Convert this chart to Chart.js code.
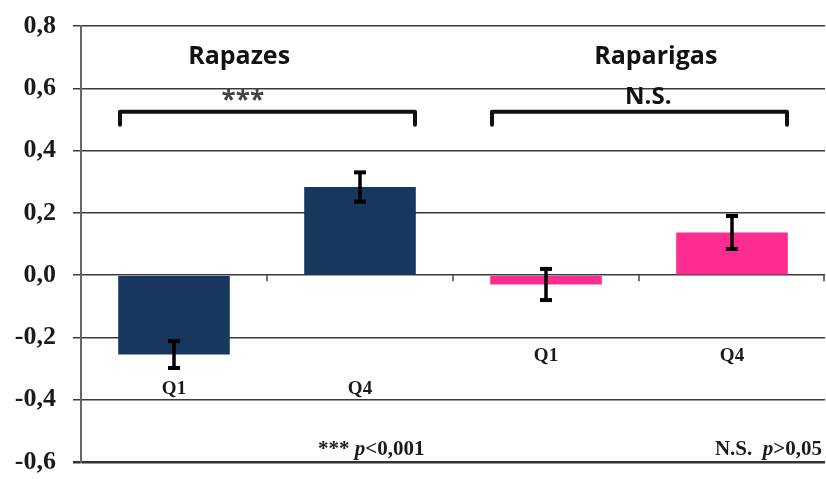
<!DOCTYPE html>
<html>
<head>
<meta charset="utf-8">
<script src="https://cdn.jsdelivr.net/npm/chart.js@4"></script>
<style>
  html, body { margin: 0; padding: 0; background: #ffffff; }
  #wrap { width: 826px; height: 479px; }
</style>
</head>
<body>
<div id="wrap"><canvas id="chart" width="826" height="479"></canvas></div>
<script>
// Groups and quartiles
const groups = ['Rapazes', 'Raparigas'];
const categories = ['Q1', 'Q4', 'Q1', 'Q4'];
const groupOfBar = [0, 0, 1, 1];
// Mean scores and their error (± half bar length)
const means = [-0.255, 0.283, -0.03, 0.137];
const errors = [0.043, 0.047, 0.05, 0.053];
// Significance marks and footnotes
const significance = ['***', 'N.S.'];
const noteLeft = ['*** ', 'p', '<0,001'];
const noteRight = ['N.S.  ', 'p', '>0,05'];
// Value axis
const yMin = -0.6;
const yMax = 0.8;
const yStep = 0.2;

const NAVY = '#18375f';
const PINK = '#fe2c91';
const barColors = groupOfBar.map(g => g === 0 ? NAVY : PINK);

const serif = (px, style) => (style || '') + ' bold ' + px + 'px "Liberation Serif", "Times New Roman", serif';
const sansBold = (px) => 'bold ' + px + 'px "Open Sans", "Liberation Sans", sans-serif';

// Draw a run of text pieces where the middle piece is italic
function drawRuns(ctx, pieces, x, y, align, px) {
  const fonts = [serif(px), serif(px, 'italic'), serif(px)];
  const widths = pieces.map((p, i) => { ctx.font = fonts[i]; return ctx.measureText(p).width; });
  const total = widths.reduce((a, b) => a + b, 0);
  let cx = align === 'right' ? x - total : (align === 'center' ? x - total / 2 : x);
  ctx.textAlign = 'left';
  pieces.forEach((p, i) => {
    ctx.font = fonts[i];
    ctx.fillText(p, cx, y);
    cx += widths[i];
  });
}

const annotations = {
  id: 'annotations',
  afterDatasetsDraw(chart) {
    const ctx = chart.ctx;
    const xs = chart.scales.x;
    const ys = chart.scales.y;
    const bars = chart.getDatasetMeta(0).data;
    const area = chart.chartArea;
    ctx.save();

    // small ticks at the category boundaries on the zero line
    const zeroY = ys.getPixelForValue(0);
    ctx.strokeStyle = '#444';
    ctx.lineWidth = 1.5;
    for (let i = 0; i < categories.length; i++) {
      const bx = (xs.getPixelForValue(i) + xs.getPixelForValue(i + 1)) / 2;
      const px = i === categories.length - 1 ? area.right - 1 : bx;
      ctx.beginPath();
      ctx.moveTo(px, zeroY);
      ctx.lineTo(px, zeroY + 6);
      ctx.stroke();
    }

    // error bars
    ctx.strokeStyle = '#000';
    ctx.fillStyle = '#000';
    bars.forEach((bar, i) => {
      const top = ys.getPixelForValue(means[i] + errors[i]);
      const bot = ys.getPixelForValue(means[i] - errors[i]);
      ctx.lineWidth = 3.5;
      ctx.beginPath();
      ctx.moveTo(bar.x, top);
      ctx.lineTo(bar.x, bot);
      ctx.stroke();
      ctx.fillRect(bar.x - 6, top - 2, 12, 4);
      ctx.fillRect(bar.x - 6, bot - 2, 12, 4);
    });

    // quartile labels under each group
    const labelLevel = [-0.365, -0.26];
    ctx.fillStyle = '#1a1a1a';
    ctx.font = serif(19);
    ctx.textAlign = 'center';
    ctx.textBaseline = 'middle';
    bars.forEach((bar, i) => {
      ctx.fillText(categories[i], bar.x, ys.getPixelForValue(labelLevel[groupOfBar[i]]));
    });

    // group titles, brackets and significance marks
    const titlePos = [0.35, 2.59];
    const sigPos = [0.37, 2.55];
    const sigLevel = [0.558, 0.572];
    groups.forEach((g, gi) => {
      const b0 = bars[gi * 2];
      const b1 = bars[gi * 2 + 1];
      ctx.fillStyle = '#111';
      ctx.font = sansBold(25);
      ctx.textAlign = 'center';
      ctx.fillText(g, xs.getPixelForValue(titlePos[gi]), ys.getPixelForValue(0.70));

      ctx.fillStyle = gi === 0 ? '#444' : '#111';
      ctx.font = sansBold(gi === 0 ? 26 : 24);
      ctx.fillText(significance[gi], xs.getPixelForValue(sigPos[gi]), ys.getPixelForValue(sigLevel[gi]));

      const left = b0.x - 54;
      const right = b1.x + 55;
      const yt = ys.getPixelForValue(0.525);
      const yb = ys.getPixelForValue(0.483);
      ctx.strokeStyle = '#111';
      ctx.lineWidth = 4;
      ctx.lineJoin = 'round';
      ctx.lineCap = 'round';
      ctx.beginPath();
      ctx.moveTo(left, yb);
      ctx.lineTo(left, yt);
      ctx.lineTo(right, yt);
      ctx.lineTo(right, yb);
      ctx.stroke();
    });

    // footnotes
    ctx.fillStyle = '#1a1a1a';
    ctx.textBaseline = 'middle';
    const noteY = ys.getPixelForValue(-0.561);
    drawRuns(ctx, noteLeft, xs.getPixelForValue(1.06), noteY, 'center', 21);
    drawRuns(ctx, noteRight, area.right - 3, noteY, 'right', 21);

    ctx.restore();
  }
};

new Chart(document.getElementById('chart'), {
  type: 'bar',
  data: {
    labels: categories,
    datasets: [{
      data: means,
      backgroundColor: barColors,
      borderWidth: 0,
      barPercentage: 0.6,
      categoryPercentage: 1.0
    }]
  },
  options: {
    responsive: false,
    animation: false,
    devicePixelRatio: 1,
    layout: { padding: { top: 26, bottom: 17, left: 0, right: 1 } },
    plugins: { legend: { display: false }, tooltip: { enabled: false } },
    scales: {
      x: { display: false, offset: true },
      y: {
        min: yMin,
        max: yMax,
        afterFit(scale) {
          scale.width = 81;
          scale.paddingTop = 0;
          scale.paddingBottom = 0;
        },
        ticks: {
          stepSize: yStep,
          padding: 17,
          color: '#1a1a1a',
          font: { family: '"Liberation Serif", "Times New Roman", serif', size: 26, weight: 'bold' },
          callback: (v) => (Math.abs(v) < 1e-9 ? 0 : v).toFixed(1).replace('.', ',')
        },
        grid: {
          color: (c) => c.index === 0 ? '#333' : '#3a3a3a',
          lineWidth: (c) => c.index === 0 ? 2.5 : 1.5,
          tickLength: 8,
          drawTicks: true
        },
        border: { display: true, color: '#666', width: 2 }
      }
    }
  },
  plugins: [annotations]
});
</script>
</body>
</html>
